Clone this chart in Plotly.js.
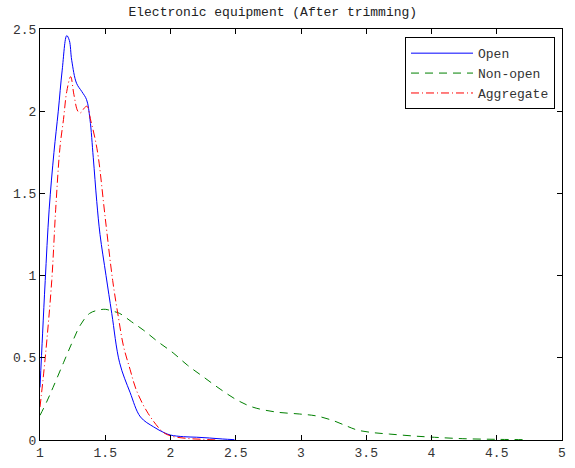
<!DOCTYPE html>
<html><head><meta charset="utf-8">
<script src="https://cdn.plot.ly/plotly-3.0.1.min.js"></script>
<style>body{margin:0;padding:0;background:#fff}</style>
</head><body>
<div id="chart" style="width:575px;height:468px"></div>
<script>
const openX = [1.0,1.02,1.04,1.07,1.107,1.14,1.17,1.205,1.225,1.243,1.28,1.32,1.357,1.383,1.408,1.435,1.46,1.506,1.55,1.61,1.69,1.77,1.87,1.95,2.0,2.1,2.2,2.3,2.4,2.49];
const openY = [0.32,0.65,0.97,1.4,1.75,2.0,2.25,2.46,2.43,2.31,2.17,2.12,2.07,1.95,1.72,1.45,1.25,1.0,0.77,0.47,0.29,0.14,0.08,0.045,0.03,0.02,0.017,0.012,0.006,0.002];
const aggX = [1.0,1.04,1.09,1.12,1.153,1.18,1.205,1.235,1.26,1.29,1.31,1.34,1.36,1.39,1.42,1.447,1.5,1.557,1.6,1.64,1.69,1.74,1.83,1.94,2.0,2.12,2.25,2.36];
const aggY = [0.2,0.5,0.97,1.4,1.78,1.95,2.12,2.21,2.1,2.0,1.99,2.02,2.03,1.94,1.84,1.72,1.35,0.97,0.75,0.57,0.43,0.30,0.16,0.05,0.025,0.01,0.004,0.0];
const nonX = [1.0,1.05,1.1,1.18,1.25,1.31,1.38,1.447,1.5,1.55,1.61,1.7,1.79,1.9,2.02,2.13,2.25,2.38,2.51,2.63,2.81,2.99,3.12,3.25,3.35,3.43,3.55,3.68,3.85,3.99,4.24,4.5,4.73];
const nonY = [0.15,0.23,0.32,0.47,0.6,0.70,0.77,0.79,0.795,0.785,0.77,0.72,0.67,0.6,0.53,0.455,0.385,0.31,0.243,0.2,0.17,0.158,0.146,0.117,0.085,0.061,0.045,0.036,0.025,0.018,0.008,0.004,0.002];
const xTicks = [1,1.5,2,2.5,3,3.5,4,4.5,5];
const xTickText = ['1','1.5','2','2.5','3','3.5','4','4.5','5'];
const yTicks = [0,0.5,1,1.5,2,2.5];
const yTickText = ['0','0.5','1','1.5','2','2.5'];

const fam = '"Liberation Mono", "Courier New", monospace';
const font = {family:fam, size:13, color:'#333'};
const traces = [
  {x:openX, y:openY, name:'Open', mode:'lines', line:{color:'#0000ff', width:1, shape:'spline'}},
  {x:nonX, y:nonY, name:'Non-open', mode:'lines', line:{color:'#008000', width:1, shape:'spline', dash:'8px,6px'}},
  {x:aggX, y:aggY, name:'Aggregate', mode:'lines', line:{color:'#ff0000', width:1, shape:'spline', dash:'8px,3px,1px,3px'}}
];
const axisCommon = {showline:true, mirror:'ticks', linecolor:'#000', linewidth:1, ticks:'inside', ticklen:5, tickcolor:'#000', showgrid:false, zeroline:false, tickfont:font};
const layout = {
  width:575, height:468,
  margin:{l:40, r:13, t:29, b:28},
  paper_bgcolor:'#fff', plot_bgcolor:'#fff',
  font: font,
  title:{text:'Electronic equipment (After trimming)', font:{family:fam, size:13, color:'#222'}, xref:'paper', x:0.446, xanchor:'center', yref:'container', y:0.975, yanchor:'middle'},
  xaxis:Object.assign({range:[1,5], tickvals:xTicks, ticktext:xTickText}, axisCommon),
  yaxis:Object.assign({range:[0,2.5], tickvals:yTicks, ticktext:yTickText, ticklabelstandoff:0}, axisCommon),
  showlegend:true,
  legend:{x:0.9866, xanchor:'right', y:0.98, yanchor:'top', bgcolor:'#fff', bordercolor:'#000', borderwidth:1, font:font, itemwidth:62, tracegroupgap:0}
};
Plotly.newPlot('chart', traces, layout, {staticPlot:true, displayModeBar:false});
</script>
</body></html>
